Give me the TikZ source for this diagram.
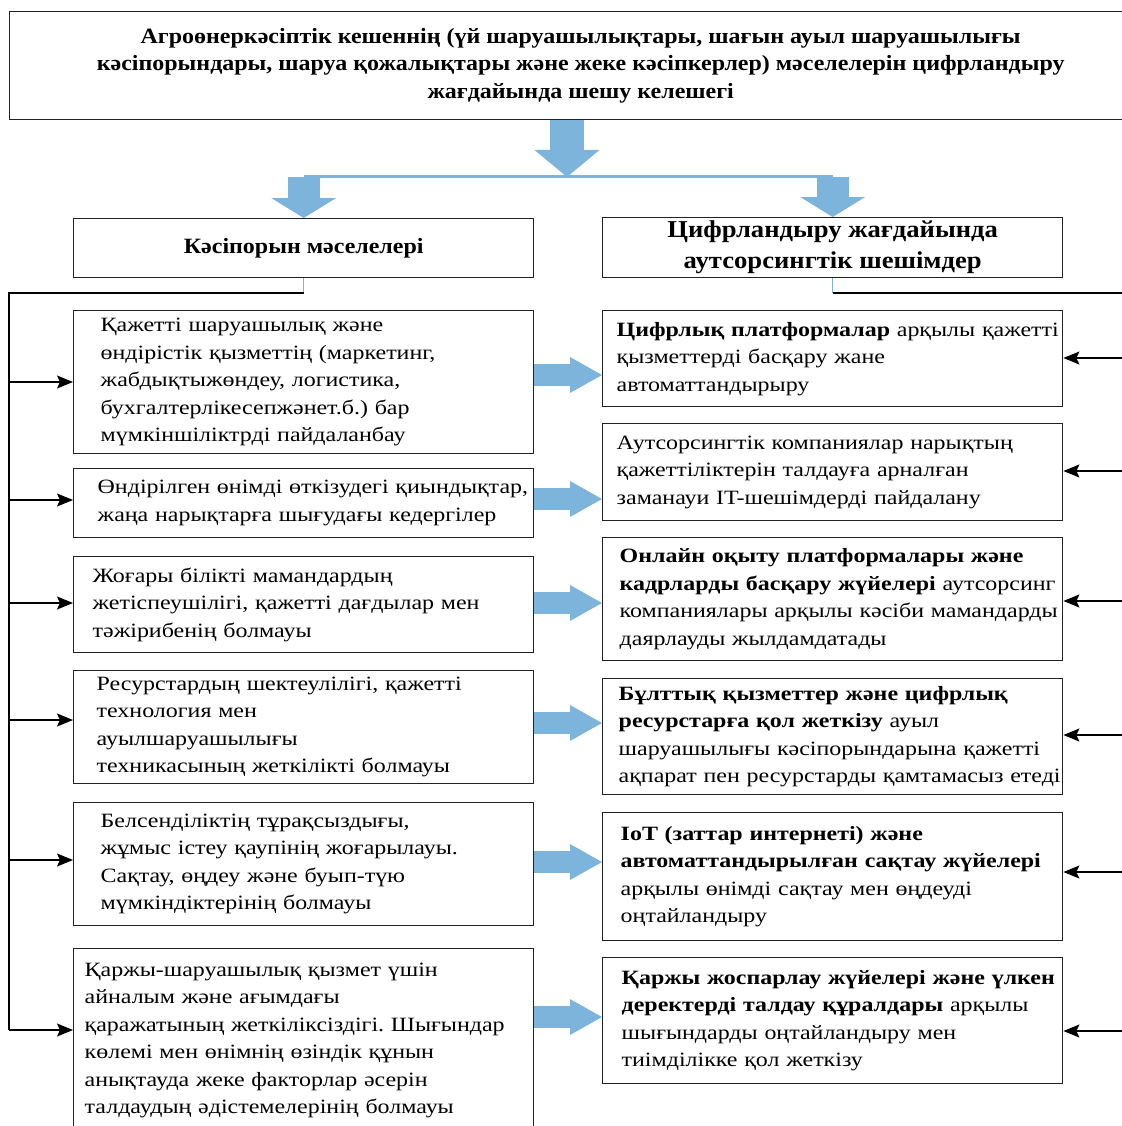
\documentclass[tikz,border=0pt]{standalone}
\usepackage{fontspec}
\setmainfont{Liberation Serif}[FakeStretch=1.18]
\newfontfamily\headfamily{Liberation Serif}[FakeStretch=1.1]
\usetikzlibrary{arrows.meta}
\frenchspacing

\definecolor{arrowblue}{HTML}{7DB4DC}
\definecolor{boxline}{HTML}{222222}
\newcommand{\bodyfont}{\fontsize{20.3}{27.5}\selectfont}
\newcommand{\titlefont}{\headfamily\fontsize{21.8}{27.5}\selectfont\bfseries}
\newcommand{\headfont}{\headfamily\fontsize{21.8}{30}\selectfont\bfseries}
\newcommand{\bigheadfont}{\headfamily\fontsize{24.2}{31}\selectfont\bfseries}

\tikzset{
  box/.style={draw=boxline, line width=1.4pt, anchor=north west, inner sep=0pt},
  textbox/.style={box, minimum width=460pt, text width=460pt, align=left, font=\bodyfont,
    execute at begin node={\leftskip=#1pt\rightskip=-40pt plus 1fil}},
  busline/.style={draw=black, line width=1.3pt},
  busarrow/.style={busline, -{Stealth[length=16pt, width=13pt, inset=3pt]}},
  thinblue/.style={draw=arrowblue, line width=1.5pt},
  fatdown/.style={draw=arrowblue, line width=34pt, -{Triangle[length=27pt, width=65pt, line width=0pt]}},
  smalldown/.style={draw=arrowblue, line width=32pt, -{Triangle[length=20pt, width=65pt, line width=0pt]}},
  fatright/.style={draw=arrowblue, line width=22pt, -{Triangle[length=32pt, width=36pt, line width=0pt]}},
}

\begin{document}
\begin{tikzpicture}[x=1pt, y=-1pt]
  \useasboundingbox (0,0) rectangle (1121,1126);

  \node[box, minimum width=1142pt, minimum height=108pt, align=center, font=\titlefont] (goal) at (9,11)
    {Агроөнеркәсіптік кешеннің (үй шаруашылықтары, шағын ауыл шаруашылығы\\
     кәсіпорындары, шаруа қожалықтары және жеке кәсіпкерлер) мәселелерін цифрландыру\\
     жағдайында шешу келешегі};

  \node[box, minimum width=460pt, minimum height=59pt, font=\headfont] (prob) at (73,218)
    {Кәсіпорын мәселелері};
  \node[box, minimum width=460pt, minimum height=60pt, align=center, font=\bigheadfont] (sol) at (602,217)
    {Цифрландыру жағдайында\\ аутсорсингтік шешімдер};

  \coordinate (split) at (567,177);
  \draw[fatdown] (goal.south -| split) -- (split);
  \draw[thinblue, line width=3pt] (prob.north |- split) -- (sol.north |- split);
  \draw[smalldown] (prob.north |- split) -- (prob.north);
  \draw[smalldown] (sol.north |- split) -- (sol.north);

  \node[textbox=27, minimum height=143pt] (p-1) at (73,310)
    {Қажетті шаруашылық және\\ өндірістік қызметтің (маркетинг,\\ жабдықтыжөндеу, логистика,\\
     бухгалтерлікесепжәнет.б.) бар\\ мүмкіншіліктрді пайдаланбау};
  \node[textbox=24, minimum height=69pt] (p-2) at (73,468)
    {Өндірілген өнімді өткізудегі қиындықтар,\\ жаңа нарықтарға шығудағы кедергілер};
  \node[textbox=19, minimum height=96pt] (p-3) at (73,556)
    {Жоғары білікті мамандардың\\ жетіспеушілігі, қажетті дағдылар мен\\ тәжірибенің болмауы};
  \node[textbox=23, minimum height=113pt] (p-4) at (73,670)
    {Ресурстардың шектеулілігі, қажетті\\ технология мен\\ ауылшаруашылығы\\
     техникасының жеткілікті болмауы};
  \node[textbox=27, minimum height=123pt] (p-5) at (73,802)
    {Белсенділіктің тұрақсыздығы,\\ жұмыс істеу қаупінің жоғарылауы.\\
     Сақтау, өңдеу және буып-түю\\ мүмкіндіктерінің болмауы};
  \node[textbox=11, minimum height=184pt] (p-6) at (73,948)
    {Қаржы-шаруашылық қызмет үшін\\ айналым және ағымдағы\\ қаражатының жеткіліксіздігі. Шығындар\\
     көлемі мен өнімнің өзіндік құнын\\ анықтауда жеке факторлар әсерін\\
     талдаудың әдістемелерінің болмауы};

  \node[textbox=14, minimum height=96pt] (s-1) at (602,310)
    {\textbf{Цифрлық платформалар} арқылы қажетті\\ қызметтерді басқару жане\\ автоматтандырыру};
  \node[textbox=14, minimum height=97pt] (s-2) at (602,423)
    {Аутсорсингтік компаниялар нарықтың\\ қажеттіліктерін талдауға арналған\\
     заманауи IT-шешімдерді пайдалану};
  \node[textbox=17, minimum height=123pt] (s-3) at (602,537)
    {\textbf{Онлайн оқыту платформалары және}\\ \textbf{кадрларды басқару жүйелері} аутсорсинг\\
     компаниялары арқылы кәсіби мамандарды\\ даярлауды жылдамдатады};
  \node[textbox=16, minimum height=116pt] (s-4) at (602,678)
    {\textbf{Бұлттық қызметтер және цифрлық}\\ \textbf{ресурстарға қол жеткізу} ауыл\\
     шаруашылығы кәсіпорындарына қажетті\\ ақпарат пен ресурстарды қамтамасыз етеді};
  \node[textbox=18, minimum height=128pt] (s-5) at (602,812)
    {\textbf{IoT (заттар интернеті) және}\\ \textbf{автоматтандырылған сақтау жүйелері}\\
     арқылы өнімді сақтау мен өңдеуді\\ оңтайландыру};
  \node[textbox=19, minimum height=126pt] (s-6) at (602,957)
    {\textbf{Қаржы жоспарлау жүйелері және үлкен}\\ \textbf{деректерді талдау құралдары} арқылы\\
     шығындарды оңтайландыру мен\\ тиімділікке қол жеткізу};

  \coordinate (lbus) at (9,293);
  \coordinate (rbus) at (1130,293);
  \draw[thinblue] (prob.south) -- (prob.south |- lbus);
  \draw[thinblue] (sol.south) -- (sol.south |- rbus);
  \draw[busline] (prob.south |- lbus) -- (lbus) -- (lbus |- 0,1030);
  \draw[busline] (sol.south |- rbus) -- (rbus) -- (rbus |- 0,1031);

  \foreach \i/\y in {1/382, 2/500, 3/603, 4/720, 5/860, 6/1030}
    \draw[busarrow] (lbus |- 0,\y) -- (p-\i.west |- 0,\y);
  \foreach \i/\y in {1/358, 2/471, 3/601, 4/735, 5/872, 6/1031}
    \draw[busarrow] (rbus |- 0,\y) -- (s-\i.east |- 0,\y);
  \foreach \i/\y in {1/375, 2/499, 3/603, 4/723, 5/862, 6/1017}
    \draw[fatright] (p-\i.east |- 0,\y) -- (s-\i.west |- 0,\y);
\end{tikzpicture}
\end{document}
